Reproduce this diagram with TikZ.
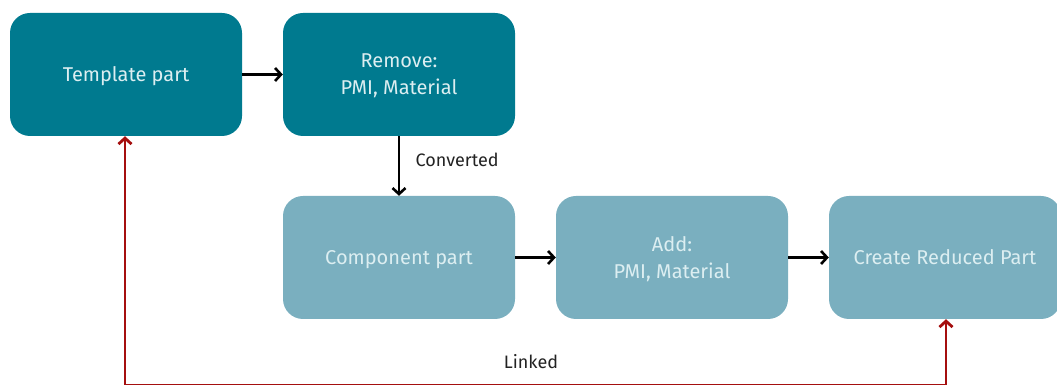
\documentclass[tikz,border=0pt]{standalone}
\usepackage{fontspec}
\setmainfont{Fira Sans}
\usetikzlibrary{arrows.meta}
\definecolor{darkteal}{HTML}{007A8F}
\definecolor{lightteal}{HTML}{7AAFBF}
\definecolor{boxtext}{HTML}{DCEEF1}
\definecolor{linkred}{HTML}{A50F0F}
\definecolor{labeltext}{HTML}{222222}
\tikzset{
  stepbox/.style={rounded corners=20pt, minimum width=232pt, minimum height=123pt,
    inner sep=0pt, text=boxtext, align=center, text depth=0pt, font=\fontsize{20}{27}\selectfont},
  darkbox/.style={stepbox, fill=darkteal},
  lightbox/.style={stepbox, fill=lightteal},
  flow/.style={draw=black, line width=2.6pt, -{Straight Barb[length=6pt,width=13pt,line width=2.6pt]}},
  linkflow/.style={draw=linkred, line width=2.8pt, line join=miter, -{Straight Barb[length=6pt,width=13pt,line width=2.8pt]}},
  lbl/.style={text=labeltext, font=\fontsize{18}{20}\selectfont}
}
\begin{document}
\begin{tikzpicture}[x=1pt,y=1pt]
\useasboundingbox (0,0) rectangle (1057,385);
\node[darkbox] (tpl) at (126,310.5) {Template part};
\node[darkbox] (rem) at (399,310.5) {Remove:\\PMI, Material};
\node[lightbox] (comp) at (399,127.5) {Component part};
\node[lightbox] (add) at (672,127.5) {Add:\\PMI, Material};
\node[lightbox] (red) at (945,127.5) {Create Reduced Part};
\draw[flow] (tpl.east) -- (rem.west);
\draw[flow] (rem.south) -- node[lbl, anchor=west, xshift=12pt, pos=0.4] {Converted} (comp.north);
\draw[flow] (comp.east) -- (add.west);
\draw[flow] (add.east) -- (red.west);
\coordinate (b1) at (125,-0.9);
\coordinate (b2) at (946,-0.9);
\draw[linkflow] (b2) -- (b1) -- (b1 |- tpl.south);
\draw[linkflow] (b2) -- (b2 |- red.south);
\node[lbl] (linked) at (531,23) {Linked};
\end{tikzpicture}
\end{document}
